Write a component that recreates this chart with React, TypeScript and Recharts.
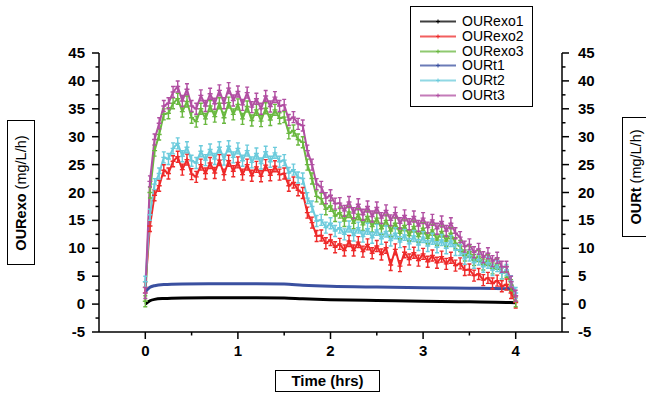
import React from 'react'
import { LineChart, Line, XAxis, YAxis } from 'recharts'

// ─── Data ────────────────────────────────────────────────────────────────────
const TIME = [
  0, 0.05, 0.1, 0.15, 0.2, 0.25, 0.3, 0.35, 0.4, 0.45,
  0.5, 0.55, 0.6, 0.65, 0.7, 0.75, 0.8, 0.85, 0.9, 0.95,
  1, 1.05, 1.1, 1.15, 1.2, 1.25, 1.3, 1.35, 1.4, 1.45,
  1.5, 1.55, 1.6, 1.65, 1.7, 1.75, 1.8, 1.85, 1.9, 1.95,
  2, 2.05, 2.1, 2.15, 2.2, 2.25, 2.3, 2.35, 2.4, 2.45,
  2.5, 2.55, 2.6, 2.65, 2.7, 2.75, 2.8, 2.85, 2.9, 2.95,
  3, 3.05, 3.1, 3.15, 3.2, 3.25, 3.3, 3.35, 3.4, 3.45,
  3.5, 3.55, 3.6, 3.65, 3.7, 3.75, 3.8, 3.85, 3.9, 3.95,
  4,
]

const OUR_EXO2 = [
  3, 14, 19.5, 21.2, 24, 23.4, 25.6, 26.4, 24.1, 25.9,
  23.3, 22.8, 25, 23.4, 25.3, 23.5, 25.8, 23.2, 25.7, 23.8,
  25.4, 23.2, 25, 23, 24.6, 22.9, 24.9, 23.1, 24.7, 23.2,
  23.4, 21.2, 21.8, 20.4, 19.9, 16.4, 14.6, 12.2, 12.3, 10.9,
  11.5, 10.2, 10.8, 9.6, 11.3, 9.6, 11.1, 9.4, 10.7, 9.1,
  10.4, 8.9, 10.1, 7, 9.8, 6.8, 9.3, 8, 9.2, 7.8,
  9, 7.6, 8.7, 7.4, 8.5, 7.2, 8.3, 6.9, 7.3, 6.1,
  6.2, 5.1, 5.4, 4.3, 4.7, 3.7, 4.2, 3.2, 3.5, 2,
  0.3,
]

const OUR_EXO3 = [
  0.5, 20, 27.5, 30.4, 34, 34.2, 36, 36.8, 34.5, 36.3,
  33.4, 32.7, 35, 33.2, 35.5, 33.6, 36, 33.4, 36.1, 34,
  35.8, 33.2, 35.4, 32.9, 34.8, 32.8, 35.1, 33, 34.8, 33.3,
  33.5, 30.6, 31.1, 29.5, 29, 25, 22.5, 19.3, 18.9, 17,
  17.6, 15.8, 16.4, 14.9, 16.5, 14.5, 16.1, 14.2, 15.7, 13.9,
  15.4, 13.5, 15, 13.1, 14.5, 12.7, 14.1, 12.3, 13.9, 12.1,
  13.6, 11.8, 13.3, 11.5, 13, 11.3, 12.7, 10.9, 10.4, 8.7,
  9.4, 7.9, 8.6, 7.1, 7.9, 6.4, 7.2, 5.5, 5.8, 3.4,
  0.5,
]

const OUR_T2 = [
  4, 16, 21.5, 23.4, 26.3, 26, 27.9, 28.8, 26.5, 28.1,
  25.7, 25.3, 27.4, 25.8, 27.7, 26, 28.1, 25.9, 28.3, 26.3,
  27.9, 25.7, 27.5, 25.4, 27, 25.2, 27.3, 25.5, 27.1, 25.5,
  25.8, 23.5, 24.1, 22.7, 22.5, 19, 17.5, 14.9, 15.1, 13.7,
  14.5, 13.1, 13.7, 12.5, 13.9, 12.3, 13.7, 12.1, 13.5, 11.9,
  13.3, 11.7, 13, 11.4, 12.7, 11.1, 12.4, 10.8, 12.2, 10.6,
  12, 10.4, 11.7, 10.2, 11.5, 10, 11.3, 9.7, 9.7, 8.1,
  8.7, 7.4, 8, 6.7, 7.4, 6.1, 6.8, 5.5, 6.1, 4.1,
  2,
]

const OUR_T3 = [
  2, 22, 29.5, 32.4, 35.5, 36, 38, 39, 36.4, 38.5,
  35.5, 35, 37.4, 35.5, 37.7, 35.9, 38.3, 36, 38.7, 36.5,
  38.1, 35.7, 37.9, 35.3, 36.8, 35, 37.3, 35.4, 37.1, 35.5,
  35.7, 33, 33.5, 32.3, 32, 27.5, 25, 21.5, 21, 19,
  19.5, 18, 18.1, 16.7, 18.3, 16.3, 17.9, 16, 17.5, 15.7,
  17.3, 15.4, 16.8, 15, 16.4, 14.5, 15.9, 14.3, 15.7, 14,
  15.4, 13.7, 15.1, 13.5, 14.8, 13.1, 14.5, 12.7, 12, 10.3,
  10.7, 9.3, 9.9, 8.4, 9.1, 7.7, 8.3, 6.7, 6.7, 4,
  1.5,
]

// smooth series were sampled more coarsely
const SMOOTH_TIME = [0, 0.05, 0.1, 0.2, 0.4, 0.8, 1.2, 1.5, 1.7, 2, 2.5, 3, 3.5, 3.9, 4]
const OUR_EXO1 = [0, 0.6, 0.85, 1, 1.1, 1.15, 1.15, 1.1, 0.95, 0.8, 0.65, 0.5, 0.4, 0.3, 0.25]
const OUR_T1 = [2.2, 3, 3.3, 3.5, 3.6, 3.65, 3.65, 3.6, 3.4, 3.2, 3.05, 2.95, 2.85, 2.75, 2.7]

const X_TICKS = [0, 0.5, 1, 1.5, 2, 2.5, 3, 3.5, 4]
const Y_TICKS = [-5, -2.5, 0, 2.5, 5, 7.5, 10, 12.5, 15, 17.5, 20, 22.5, 25, 27.5, 30, 32.5, 35, 37.5, 40, 42.5, 45]

const SERIES = [
  { key: 'exo1', name: 'OURexo1', color: '#000000' },
  { key: 'exo2', name: 'OURexo2', color: '#ee2a2a' },
  { key: 'exo3', name: 'OURexo3', color: '#6ab840' },
  { key: 't1', name: 'OURt1', color: '#3a50a0' },
  { key: 't2', name: 'OURt2', color: '#6ccbdc' },
  { key: 't3', name: 'OURt3', color: '#b14fa2' },
]

const noisyRows = TIME.map((t, i) => ({
  t,
  exo2: OUR_EXO2[i],
  exo3: OUR_EXO3[i],
  t2: OUR_T2[i],
  t3: OUR_T3[i],
}))

const smoothRows = SMOOTH_TIME.map((t, i) => ({ t, exo1: OUR_EXO1[i], t1: OUR_T1[i] }))

const FONT = '"Liberation Sans", Arial, sans-serif'
const colorOf = (k: string) => SERIES.find((s) => s.key === k)!.color

// ─── Tick renderers (major every 5 / every 1 hr, minor in between) ───────────
function LeftTick({ x, y, payload }: any) {
  const major = payload.value % 5 === 0
  return (
    <g>
      <line x1={x - (major ? 7 : 3.5)} x2={x} y1={y} y2={y} stroke="#000" strokeWidth={1.5} />
      {major && (
        <text x={x - 14} y={y} dy={5} textAnchor="end" fontFamily={FONT} fontWeight="bold" fontSize={15} fill="#000">
          {payload.value}
        </text>
      )}
    </g>
  )
}

function RightTick({ x, y, payload }: any) {
  const major = payload.value % 5 === 0
  return (
    <g>
      <line x1={x} x2={x + (major ? 7 : 3.5)} y1={y} y2={y} stroke="#000" strokeWidth={1.5} />
      {major && (
        <text x={x + 16} y={y} dy={5} textAnchor="start" fontFamily={FONT} fontWeight="bold" fontSize={15} fill="#000">
          {payload.value}
        </text>
      )}
    </g>
  )
}

function BottomTick({ x, y, payload }: any) {
  const major = Number.isInteger(payload.value)
  return (
    <g>
      <line x1={x} x2={x} y1={y} y2={y + (major ? 7 : 3.5)} stroke="#000" strokeWidth={1.5} />
      {major && (
        <text x={x} y={y + 24} textAnchor="middle" fontFamily={FONT} fontWeight="bold" fontSize={15} fill="#000">
          {payload.value}
        </text>
      )}
    </g>
  )
}

// plus marker with an error whisker, like the Origin export
const plusDot = (color: string) => (props: any) => {
  const { cx, cy, index } = props
  if (cx == null || cy == null) return <g key={index} />
  const d = `M${cx - 2.5},${cy}H${cx + 2.5}M${cx},${cy - 5.5}V${cy + 5.5}M${cx - 2},${cy - 5.5}H${cx + 2}M${cx - 2},${cy + 5.5}H${cx + 2}`
  return <path key={index} d={d} stroke={color} strokeWidth={1.4} fill="none" />
}

function LegendBox() {
  return (
    <div
      style={{
        position: 'absolute', left: 410, top: 6, width: 123, height: 101,
        border: '1px solid #000', background: '#fff', boxSizing: 'border-box',
      }}
    >
      {SERIES.map((s, i) => (
        <div key={s.key} style={{ position: 'absolute', left: 9, top: 7 + i * 14.8, height: 15, display: 'flex', alignItems: 'center' }}>
          <svg width={36} height={15}>
            <line x1={0} x2={36} y1={7.5} y2={7.5} stroke={s.color} strokeWidth={2} opacity={0.75} />
            <path d="M16,7.5H20M18,5.5V9.5" stroke={s.color} strokeWidth={1} />
          </svg>
          <span style={{ marginLeft: 6, fontFamily: FONT, fontSize: 14, color: '#000', lineHeight: '15px' }}>{s.name}</span>
        </div>
      ))}
    </div>
  )
}

const boxStyle: React.CSSProperties = {
  position: 'absolute', border: '1px solid #000', background: '#fff', boxSizing: 'border-box',
  fontFamily: FONT, color: '#000', whiteSpace: 'nowrap',
}

function VerticalTitle({ left, top, width, height, bold, rest }: { left: number; top: number; width: number; height: number; bold: string; rest: string }) {
  return (
    <div style={{ ...boxStyle, left, top, width, height }}>
      <div
        style={{
          position: 'absolute', left: '50%', top: '50%',
          transform: 'translate(-50%, -50%) rotate(-90deg)', fontSize: 14.5,
        }}
      >
        <b>{bold}</b> {rest}
      </div>
    </div>
  )
}

export default function App() {
  return (
    <div style={{ position: 'absolute', left: 0, top: 0, width: 646, height: 394, background: '#fff', overflow: 'hidden' }}>
      <LineChart width={646} height={394} data={noisyRows} margin={{ top: 53, right: 24, bottom: 32, left: 39 }}>
        <XAxis
          type="number"
          dataKey="t"
          domain={[-0.5, 4.5]}
          ticks={X_TICKS}
          interval={0}
          height={30}
          tickSize={0}
          tickMargin={0}
          tickLine={false}
          tick={<BottomTick />}
          axisLine={{ stroke: '#000', strokeWidth: 1.5 }}
          allowDataOverflow
        />
        <YAxis
          yAxisId="left"
          domain={[-5, 45]}
          ticks={Y_TICKS}
          interval={0}
          width={60}
          tickSize={0}
          tickMargin={0}
          tickLine={false}
          tick={<LeftTick />}
          axisLine={{ stroke: '#000', strokeWidth: 1.5 }}
          allowDataOverflow
        />
        <YAxis
          yAxisId="right"
          orientation="right"
          domain={[-5, 45]}
          ticks={Y_TICKS}
          interval={0}
          width={60}
          tickSize={0}
          tickMargin={0}
          tickLine={false}
          tick={<RightTick />}
          axisLine={{ stroke: '#000', strokeWidth: 1.5 }}
          allowDataOverflow
        />
        <Line yAxisId="left" data={smoothRows} dataKey="exo1" type="monotone" stroke={colorOf('exo1')} strokeWidth={3} dot={false} isAnimationActive={false} />
        <Line yAxisId="left" dataKey="exo2" type="linear" stroke={colorOf('exo2')} strokeWidth={2} dot={plusDot(colorOf('exo2'))} isAnimationActive={false} />
        <Line yAxisId="left" dataKey="exo3" type="linear" stroke={colorOf('exo3')} strokeWidth={2} dot={plusDot(colorOf('exo3'))} isAnimationActive={false} />
        <Line yAxisId="right" data={smoothRows} dataKey="t1" type="monotone" stroke={colorOf('t1')} strokeWidth={3} dot={false} isAnimationActive={false} />
        <Line yAxisId="right" dataKey="t2" type="linear" stroke={colorOf('t2')} strokeWidth={2} dot={plusDot(colorOf('t2'))} isAnimationActive={false} />
        <Line yAxisId="right" dataKey="t3" type="linear" stroke={colorOf('t3')} strokeWidth={2} dot={plusDot(colorOf('t3'))} isAnimationActive={false} />
      </LineChart>

      <LegendBox />
      <VerticalTitle left={7} top={120} width={28} height={145} bold="OURexo" rest="(mg/L/h)" />
      <VerticalTitle left={622} top={117} width={28} height={120} bold="OURt" rest="(mg/L/h)" />
      <div style={{ ...boxStyle, left: 275, top: 370, width: 105, height: 22, fontSize: 15, fontWeight: 'bold', textAlign: 'center', lineHeight: '20px' }}>
        Time (hrs)
      </div>
    </div>
  )
}
